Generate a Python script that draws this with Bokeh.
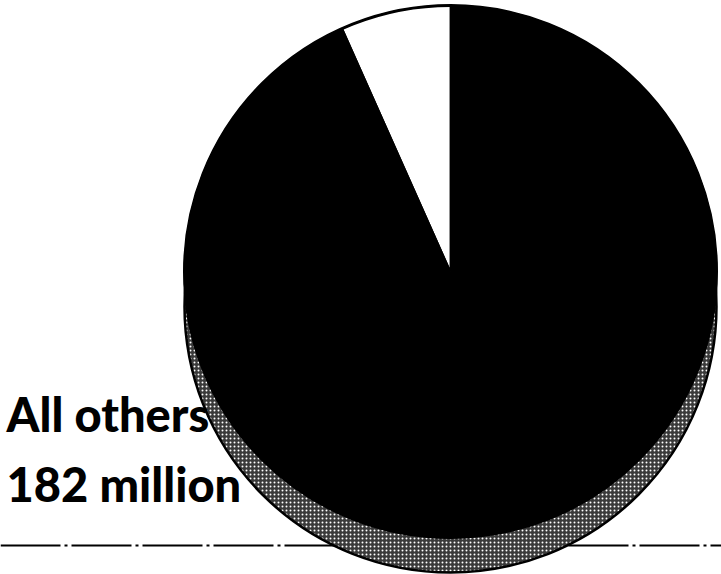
import numpy as np
from bokeh.plotting import figure
from bokeh.models import Range1d, Span, ColumnDataSource
from bokeh.core.properties import value
from bokeh.embed import file_html
from bokeh.resources import INLINE

# Data
categories = ["Other", "All others"]
values = [13, 182]          # millions
label_lines = ["All others", "182 million"]

W, H = 721, 574
p = figure(width=W, height=H, output_backend="svg", toolbar_location=None,
           x_range=Range1d(0, W), y_range=Range1d(0, H),
           min_border=0, background_fill_color="white", border_fill_color="white")
p.axis.visible = False
p.grid.visible = False
p.outline_line_color = None

# baseline rule behind the pie
p.add_layout(Span(location=29, dimension="width", line_color="black",
                  line_width=2, line_dash="60 4 3 4", level="underlay"))

cx, cy, r = 450, 303, 266

# shadow / disc thickness
p.circle(x=[cx], y=[cy - 35], radius=r, fill_color="#3a3a3a",
         hatch_pattern="dot", hatch_color="white", hatch_scale=4, hatch_weight=1.6,
         line_color="black", line_width=2.5)

vals = np.array(values, dtype=float)
frac = vals / vals.sum()
ends = np.pi / 2 + np.cumsum(frac) * 2 * np.pi
starts = ends - frac * 2 * np.pi
src = ColumnDataSource(dict(cat=categories, start=starts, end=ends,
                            color=["white", "black"]))
p.wedge(x=cx, y=cy, radius=r, start_angle="start", end_angle="end",
        fill_color="color", line_color="black", line_width=1.5, source=src)
# outer rim of the top disc
p.circle(x=[cx], y=[cy], radius=r, fill_color=None, line_color="black", line_width=3)

# label (baseline compensated for the svg text offset)
p.text(x=[6, 6], y=[574 - 432 + 19, 574 - 502 + 19], text=label_lines,
       text_font=value("Lato Black, Lato"), text_font_style="bold",
       text_font_size="47px", text_color="black", text_baseline="alphabetic",
       text_align="left")

open("out.html", "w").write(file_html(p, INLINE))
